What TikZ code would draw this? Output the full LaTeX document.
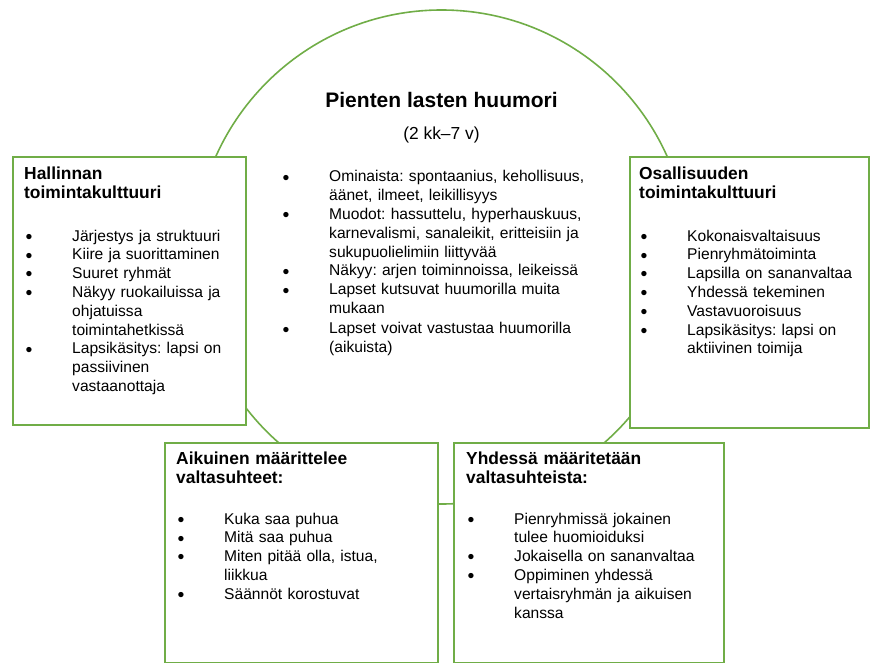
\documentclass[tikz,border=0pt]{standalone}
\usepackage{fontspec}
\setmainfont{Liberation Sans}
\usepackage{graphicx}
\usepackage{xcolor}
\usepackage{tikz}
\definecolor{leafgreen}{RGB}{112,173,71}
\newcommand{\bitem}[1]{\noindent\hangindent=46.7pt\hangafter=1\makebox[46.7pt][l]{\raisebox{-0.15em}{\scalebox{1.25}{\textbullet}}}#1\par}

\begin{document}
\begin{tikzpicture}[x=1pt,y=-1pt,
  ring/.style={draw=leafgreen,line width=1.6pt},
  panel/.style={draw=leafgreen,line width=1.6pt,fill=white,anchor=north west,inner sep=0pt},
  head/.style={anchor=base west,inner sep=0pt,text width=#1,align=left,font=\fontsize{17.4}{19}\selectfont\bfseries},
  items/.style={anchor=base west,inner sep=0pt,text width=#1,align=left,font=\fontsize{15.6}{18.8}\selectfont\frenchspacing}]
\useasboundingbox (0,0) rectangle (870,663);
% the big circle behind the boxes
\draw[ring] (441.5,257) circle[radius=247];
\node[anchor=base,inner sep=0pt,font=\fontsize{21}{24}\selectfont\bfseries] (title) at (441.5,108) {Pienten lasten huumori};
\node[anchor=base,inner sep=0pt,font=\fontsize{17.4}{20}\selectfont] (span) at (441.5,140) {(2 kk--7 v)};
\node[items=310pt] (traits) at (282.3,182) {%
  \bitem{Ominaista: spontaanius, kehollisuus,\newline äänet, ilmeet, leikillisyys}
  \bitem{Muodot: hassuttelu, hyperhauskuus,\newline karnevalismi, sanaleikit, eritteisiin ja\newline sukupuolielimiin liittyvää}
  \bitem{Näkyy: arjen toiminnoissa, leikeissä}
  \bitem{Lapset kutsuvat huumorilla muita\newline mukaan}
  \vspace{1.5pt}
  \bitem{Lapset voivat vastustaa huumorilla\newline (aikuista)}};
% left and right boxes
\node[panel,minimum width=233pt,minimum height=268pt] (hall) at (12,156) {};
\node[head=215pt] (hallhead) at (24,180) {Hallinnan\\toimintakulttuuri};
\node[items=215pt] (halllist) at (25.3,241) {%
  \bitem{Järjestys ja struktuuri}
  \bitem{Kiire ja suorittaminen}
  \bitem{Suuret ryhmät}
  \bitem{Näkyy ruokailuissa ja\newline ohjatuissa\newline toimintahetkissä}
  \bitem{Lapsikäsitys: lapsi on\newline passiivinen\newline vastaanottaja}};
\node[panel,minimum width=239pt,minimum height=271pt] (osal) at (629,156) {};
\node[head=220pt] (osalhead) at (639,180) {Osallisuuden\\toimintakulttuuri};
\node[items=225pt] (osallist) at (640.3,241) {%
  \bitem{Kokonaisvaltaisuus}
  \bitem{Pienryhmätoiminta}
  \bitem{Lapsilla on sananvaltaa}
  \bitem{Yhdessä tekeminen}
  \bitem{Vastavuoroisuus}
  \bitem{Lapsikäsitys: lapsi on\newline aktiivinen toimija}};
% bottom boxes
\node[panel,minimum width=273pt,minimum height=220pt] (aik) at (164,442) {};
\node[head=250pt] (aikhead) at (176,464) {Aikuinen määrittelee\\valtasuhteet:};
\node[items=250pt] (aiklist) at (177.3,524) {%
  \bitem{Kuka saa puhua}
  \bitem{Mitä saa puhua}
  \bitem{Miten pitää olla, istua,\newline liikkua}
  \bitem{Säännöt korostuvat}};
\node[panel,minimum width=270pt,minimum height=220pt] (yht) at (453,442) {};
\node[head=250pt] (yhthead) at (466,464) {Yhdessä määritetään\\valtasuhteista:};
\node[items=250pt] (yhtlist) at (467.3,524) {%
  \bitem{Pienryhmissä jokainen\newline tulee huomioiduksi}
  \bitem{Jokaisella on sananvaltaa}
  \bitem{Oppiminen yhdessä\newline vertaisryhmän ja aikuisen\newline kanssa}};
\end{tikzpicture}
\end{document}
